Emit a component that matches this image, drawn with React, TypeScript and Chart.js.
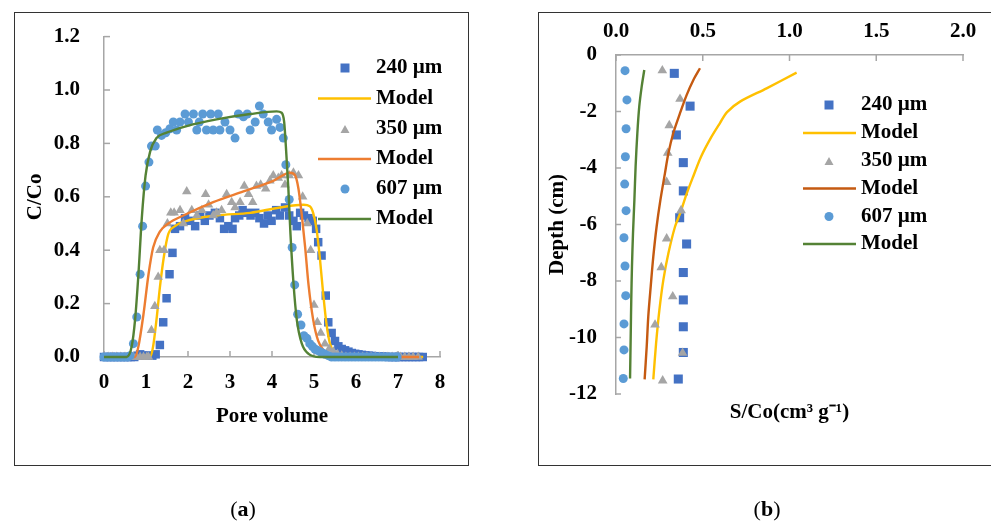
import React, { useEffect, useRef } from "react";
import { Chart, registerables } from "chart.js";

Chart.register(...registerables);

const FONT_FAMILY = '"Liberation Serif", "Times New Roman", Times, serif';
const AXIS_COLOR = "#a6a6a6";
const C240 = "#4472C4";
const C350 = "#A5A5A5";
const C607 = "#5B9BD5";
const YELLOW = "#FFC000";
const ORANGE_A = "#ED7D31";
const ORANGE_B = "#C55A11";
const GREEN = "#548235";

// ---------- Panel (a): breakthrough curves ----------
const xTicksA = [0, 1, 2, 3, 4, 5, 6, 7, 8];
const yTicksA = [0, 0.2, 0.4, 0.6, 0.8, 1.0, 1.2];

const obs240A: [number, number][] = [
  [0, 0], [0.08, 0], [0.16, 0], [0.24, 0], [0.32, 0], [0.4, 0], [0.48, 0], [0.56, 0], [0.64, 0], [0.72, 0],
  [0.8, 0.005], [0.86, 0.01], [0.95, 0.005], [1.05, 0.005], [1.15, 0.005], [1.23, 0.01], [1.33, 0.045],
  [1.41, 0.13], [1.49, 0.22], [1.56, 0.31], [1.63, 0.39], [1.69, 0.48], [1.81, 0.49], [1.93, 0.52],
  [2.05, 0.51], [2.17, 0.49], [2.29, 0.53], [2.4, 0.51], [2.51, 0.53], [2.64, 0.54], [2.76, 0.52],
  [2.86, 0.48], [2.96, 0.49], [3.06, 0.48], [3.12, 0.52], [3.22, 0.53], [3.3, 0.55], [3.4, 0.54],
  [3.49, 0.53], [3.6, 0.54], [3.7, 0.52], [3.81, 0.5], [3.9, 0.53], [3.99, 0.51], [4.1, 0.55],
  [4.19, 0.53], [4.31, 0.56], [4.41, 0.53], [4.51, 0.51], [4.59, 0.49], [4.67, 0.54], [4.76, 0.53],
  [4.87, 0.52], [4.97, 0.51], [5.05, 0.48], [5.1, 0.43], [5.18, 0.38], [5.28, 0.23], [5.34, 0.13],
  [5.42, 0.09], [5.5, 0.06], [5.58, 0.04], [5.66, 0.03], [5.74, 0.025], [5.82, 0.02], [5.9, 0.015],
  [5.98, 0.012], [6.06, 0.01], [6.14, 0.008], [6.22, 0.006], [6.3, 0.005], [6.38, 0.004], [6.46, 0.003],
  [6.54, 0.002], [6.62, 0.002], [6.7, 0.001], [6.78, 0], [6.86, 0], [6.94, 0], [7.02, 0], [7.1, 0],
  [7.18, 0], [7.26, 0], [7.34, 0], [7.42, 0], [7.5, 0], [7.59, 0],
];

const obs350A: [number, number][] = [
  [0, 0], [0.1, 0], [0.2, 0], [0.3, 0], [0.4, 0], [0.5, 0], [0.6, 0], [0.7, 0], [0.78, 0], [0.86, 0],
  [0.94, 0], [1.02, 0], [1.06, 0], [1.13, 0.1], [1.21, 0.19], [1.29, 0.3], [1.33, 0.4], [1.43, 0.4],
  [1.51, 0.5], [1.59, 0.54], [1.67, 0.54], [1.81, 0.55], [1.89, 0.5], [1.97, 0.62], [2.09, 0.55],
  [2.21, 0.53], [2.33, 0.55], [2.42, 0.61], [2.49, 0.57], [2.6, 0.53], [2.68, 0.54], [2.8, 0.55],
  [2.92, 0.61], [3.04, 0.58], [3.12, 0.56], [3.24, 0.58], [3.34, 0.64], [3.44, 0.61], [3.54, 0.58],
  [3.63, 0.64], [3.73, 0.645], [3.85, 0.63], [3.95, 0.66], [4.03, 0.68], [4.15, 0.67], [4.23, 0.68],
  [4.31, 0.645], [4.41, 0.68], [4.51, 0.69], [4.63, 0.68], [4.73, 0.6], [4.84, 0.5], [4.92, 0.4],
  [5.0, 0.195], [5.08, 0.13], [5.16, 0.09], [5.26, 0.05], [5.36, 0.03], [5.46, 0.02], [5.56, 0.01],
  [5.66, 0.005], [5.76, 0], [5.86, 0], [5.96, 0], [6.06, 0], [6.16, 0], [6.26, 0], [6.36, 0], [6.46, 0],
  [6.56, 0], [6.66, 0], [6.76, 0], [6.86, 0], [6.96, 0], [7.06, 0], [7.16, 0], [7.26, 0], [7.36, 0], [7.48, 0],
];

const obs607A: [number, number][] = [
  [0, 0], [0.08, 0], [0.16, 0], [0.24, 0], [0.32, 0], [0.4, 0], [0.48, 0], [0.56, 0], [0.62, 0.005],
  [0.7, 0.05], [0.78, 0.15], [0.86, 0.31], [0.92, 0.49], [0.99, 0.64], [1.07, 0.73], [1.13, 0.79],
  [1.22, 0.79], [1.27, 0.85], [1.37, 0.83], [1.47, 0.84], [1.57, 0.855], [1.65, 0.88], [1.73, 0.85],
  [1.81, 0.88], [1.93, 0.91], [2.01, 0.88], [2.13, 0.91], [2.21, 0.85], [2.27, 0.88], [2.35, 0.91],
  [2.44, 0.85], [2.54, 0.91], [2.6, 0.85], [2.72, 0.91], [2.76, 0.85], [2.88, 0.88], [3.0, 0.85],
  [3.12, 0.82], [3.2, 0.91], [3.32, 0.9], [3.41, 0.91], [3.48, 0.85], [3.6, 0.88], [3.7, 0.94],
  [3.79, 0.91], [3.91, 0.88], [3.99, 0.85], [4.11, 0.89], [4.19, 0.86], [4.27, 0.82], [4.33, 0.72],
  [4.41, 0.59], [4.48, 0.41], [4.54, 0.27], [4.61, 0.16], [4.69, 0.12], [4.76, 0.08], [4.83, 0.07],
  [4.9, 0.05], [4.96, 0.04], [5.02, 0.03], [5.08, 0.025], [5.14, 0.02], [5.2, 0.015], [5.26, 0.01],
  [5.34, 0.005], [5.42, 0], [5.5, 0], [5.58, 0], [5.66, 0], [5.74, 0], [5.82, 0], [5.9, 0], [5.98, 0],
  [6.06, 0], [6.14, 0], [6.22, 0], [6.3, 0], [6.38, 0], [6.46, 0], [6.54, 0], [6.62, 0], [6.7, 0],
  [6.78, 0], [6.86, 0], [6.94, 0], [6.98, 0],
];

const model240A: [number, number][] = [
  [0, 0], [1.1, 0], [1.17, 0.04], [1.25, 0.14], [1.33, 0.26], [1.43, 0.38], [1.53, 0.46], [1.69, 0.49],
  [1.97, 0.51], [2.68, 0.53], [3.48, 0.54], [4.19, 0.56], [4.75, 0.57], [4.9, 0.565], [4.98, 0.54],
  [5.06, 0.48], [5.14, 0.37], [5.22, 0.235], [5.3, 0.12], [5.38, 0.05], [5.5, 0.012], [5.7, 0], [7.6, 0],
];
const model350A: [number, number][] = [
  [0, 0], [0.74, 0], [0.82, 0.04], [0.94, 0.16], [1.06, 0.31], [1.17, 0.41], [1.33, 0.47], [1.53, 0.5],
  [1.89, 0.53], [2.6, 0.58], [3.32, 0.62], [4.03, 0.66], [4.43, 0.69], [4.55, 0.68], [4.63, 0.63],
  [4.71, 0.53], [4.79, 0.41], [4.87, 0.27], [4.98, 0.14], [5.1, 0.06], [5.26, 0.02], [5.42, 0], [7.5, 0],
];
const model607A: [number, number][] = [
  [0, 0], [0.54, 0], [0.66, 0.04], [0.74, 0.14], [0.82, 0.31], [0.9, 0.52], [0.99, 0.68], [1.1, 0.77],
  [1.25, 0.82], [1.49, 0.84], [1.97, 0.865], [2.68, 0.89], [3.48, 0.91], [4.11, 0.92], [4.23, 0.915],
  [4.29, 0.88], [4.33, 0.79], [4.39, 0.63], [4.44, 0.46], [4.51, 0.28], [4.59, 0.14], [4.71, 0.05],
  [4.87, 0.012], [5.14, 0], [7.0, 0],
];

// ---------- Panel (b): retention profiles ----------
const xTicksB = [0, 0.5, 1.0, 1.5, 2.0];
const yTicksB = [0, -2, -4, -6, -8, -10, -12];

const obs240B: [number, number][] = [
  [0.336, -0.65], [0.427, -1.81], [0.348, -2.83], [0.388, -3.81], [0.388, -4.81], [0.367, -5.76],
  [0.407, -6.69], [0.388, -7.7], [0.388, -8.67], [0.388, -9.62], [0.388, -10.53], [0.359, -11.47],
];
const obs350B: [number, number][] = [
  [0.267, -0.55], [0.369, -1.56], [0.307, -2.49], [0.298, -3.47], [0.292, -4.5], [0.375, -5.5],
  [0.292, -6.5], [0.261, -7.52], [0.327, -8.55], [0.225, -9.55], [0.384, -10.55], [0.269, -11.53],
];
const obs607B: [number, number][] = [
  [0.052, -0.555], [0.063, -1.59], [0.058, -2.61], [0.054, -3.6], [0.05, -4.57], [0.058, -5.51],
  [0.046, -6.47], [0.052, -7.47], [0.056, -8.52], [0.046, -9.52], [0.046, -10.44], [0.042, -11.45],
];
const model240B: [number, number][] = [
  [1.041, -0.625], [0.868, -1.18], [0.715, -1.65], [0.64, -2.02], [0.6, -2.4], [0.545, -2.95],
  [0.49, -3.6], [0.445, -4.3], [0.405, -4.95], [0.37, -5.6], [0.34, -6.08], [0.302, -7.02],
  [0.273, -7.96], [0.25, -9.03], [0.231, -10.21], [0.215, -11.48],
];
const model350B: [number, number][] = [
  [0.484, -0.47], [0.446, -0.885], [0.407, -1.42], [0.369, -2.06], [0.33, -2.77], [0.302, -3.48],
  [0.282, -4.19], [0.256, -5.13], [0.234, -6.08], [0.215, -7.14], [0.2, -8.2], [0.186, -9.26],
  [0.177, -10.32], [0.165, -11.48],
];
const model607B: [number, number][] = [
  [0.163, -0.53], [0.148, -1.12], [0.134, -1.83], [0.123, -2.77], [0.113, -3.95], [0.106, -5.13],
  [0.098, -6.31], [0.092, -7.49], [0.088, -8.67], [0.085, -9.85], [0.081, -11.45],
];

const legendLabels = ["240 µm", "Model", "350 µm", "Model", "607 µm", "Model"];

const toXY = (a: [number, number][]) => a.map(([x, y]) => ({ x, y }));
const font21 = { family: FONT_FAMILY, size: 21, weight: "bold" as const, lineHeight: 1.2 };

function obsDataset(label: string, data: [number, number][], style: string, color: string, r: number, order: number) {
  return {
    label,
    data: toXY(data),
    showLine: false,
    pointStyle: style,
    pointRadius: r,
    pointHoverRadius: r,
    pointBackgroundColor: color,
    pointBorderColor: color,
    pointBorderWidth: 0,
    backgroundColor: color,
    borderColor: color,
    clip: false as const,
    order,
  };
}
function modelDataset(label: string, data: [number, number][], color: string, order: number, smooth: any) {
  return {
    label,
    data: toXY(data),
    showLine: true,
    pointRadius: 0,
    pointHoverRadius: 0,
    borderColor: color,
    backgroundColor: color,
    borderWidth: 2.4,
    fill: false,
    clip: false as const,
    order,
    ...smooth,
  };
}

type Marker = "rect" | "triangle" | "circle";
function drawMarker(ctx: CanvasRenderingContext2D, kind: Marker, x: number, y: number, size: number, color: string) {
  ctx.fillStyle = color;
  ctx.beginPath();
  if (kind === "rect") ctx.rect(x - size / 2, y - size / 2, size, size);
  else if (kind === "triangle") {
    const h = size * 0.87;
    ctx.moveTo(x, y - h / 2);
    ctx.lineTo(x + size / 2, y + h / 2);
    ctx.lineTo(x - size / 2, y + h / 2);
    ctx.closePath();
  } else ctx.arc(x, y, size / 2, 0, Math.PI * 2);
  ctx.fill();
}

function legendPlugin(
  rows: { marker?: Marker; color: string }[],
  cfg: { markerX: number; lineX0: number; lineX1: number; textX: number; ys: number[]; size: number }
) {
  return {
    id: "customLegend",
    afterDraw(chart: any) {
      const ctx: CanvasRenderingContext2D = chart.ctx;
      ctx.save();
      rows.forEach((row, i) => {
        const y = cfg.ys[i];
        if (row.marker) drawMarker(ctx, row.marker, cfg.markerX, y, cfg.size, row.color);
        else {
          ctx.strokeStyle = row.color;
          ctx.lineWidth = 2.4;
          ctx.beginPath();
          ctx.moveTo(cfg.lineX0, y);
          ctx.lineTo(cfg.lineX1, y);
          ctx.stroke();
        }
        ctx.fillStyle = "#000";
        ctx.font = `bold 21px ${FONT_FAMILY}`;
        ctx.textAlign = "left";
        ctx.textBaseline = "middle";
        ctx.fillText(legendLabels[i], cfg.textX, y);
      });
      ctx.restore();
    },
  };
}

function innerTicksPlugin(specs: { axis: string; dir: "up" | "down" | "right"; len: number }[]) {
  return {
    id: "innerTicks",
    beforeDatasetsDraw(chart: any) {
      const ctx: CanvasRenderingContext2D = chart.ctx;
      const area = chart.chartArea;
      ctx.save();
      ctx.strokeStyle = AXIS_COLOR;
      ctx.lineWidth = 1.5;
      for (const s of specs) {
        const scale = chart.scales[s.axis];
        for (const t of scale.ticks) {
          const p = scale.getPixelForValue(t.value);
          ctx.beginPath();
          if (s.dir === "up") {
            ctx.moveTo(p, area.bottom);
            ctx.lineTo(p, area.bottom - s.len);
          } else if (s.dir === "down") {
            ctx.moveTo(p, area.top);
            ctx.lineTo(p, area.top + s.len);
          } else {
            ctx.moveTo(area.left, p);
            ctx.lineTo(area.left + s.len, p);
          }
          ctx.stroke();
        }
      }
      ctx.restore();
    },
  };
}

function leftConfig(): any {
  const mono = { cubicInterpolationMode: "monotone" };
  return {
    type: "scatter",
    data: {
      datasets: [
        obsDataset("240 µm", obs240A, "rect", C240, 6, 5),
        modelDataset("Model", model240A, YELLOW, 4, mono),
        obsDataset("350 µm", obs350A, "triangle", C350, 5.5, 3),
        modelDataset("Model", model350A, ORANGE_A, 2, mono),
        obsDataset("607 µm", obs607A, "circle", C607, 4.5, 1),
        modelDataset("Model", model607A, GREEN, 0, mono),
      ],
    },
    options: {
      animation: false,
      responsive: false,
      devicePixelRatio: 1,
      events: [],
      layout: { padding: { left: 0, top: 33.5, right: 60, bottom: 0 } },
      plugins: { legend: { display: false }, tooltip: { enabled: false } },
      scales: {
        x: {
          type: "linear",
          position: "bottom",
          min: 0,
          max: 8,
          afterBuildTicks: (s: any) => { s.ticks = xTicksA.map((v) => ({ value: v })); },
          ticks: { font: font21, color: "#000", padding: 13, maxRotation: 0, autoSkip: false, callback: (v: any) => String(v) },
          grid: { display: false, drawTicks: false },
          border: { display: true, color: AXIS_COLOR, width: 1.5 },
          title: { display: true, text: "Pore volume", font: font21, color: "#000", padding: { top: 0, bottom: 95 } },
          afterFit: (s: any) => { s.height = 167; },
        },
        y: {
          type: "linear",
          position: "left",
          min: 0,
          max: 1.2,
          afterBuildTicks: (s: any) => { s.ticks = yTicksA.map((v) => ({ value: v })); },
          ticks: { font: font21, color: "#000", padding: 24, autoSkip: false, callback: (v: any) => Number(v).toFixed(1) },
          grid: { display: false, drawTicks: false },
          border: { display: true, color: AXIS_COLOR, width: 1.5 },
          title: { display: true, text: "C/Co", font: font21, color: "#000", padding: { top: 23, bottom: 0 } },
          afterFit: (s: any) => { s.width = 104; },
        },
      },
    },
    plugins: [
      innerTicksPlugin([
        { axis: "x", dir: "up", len: 6 },
        { axis: "y", dir: "right", len: 6 },
      ]),
      legendPlugin(
        [
          { marker: "rect", color: C240 },
          { color: YELLOW },
          { marker: "triangle", color: C350 },
          { color: ORANGE_A },
          { marker: "circle", color: C607 },
          { color: GREEN },
        ],
        { markerX: 345, lineX0: 318, lineX1: 371, textX: 376, ys: [68, 98.5, 129, 159, 189, 219], size: 9 }
      ),
    ],
  };
}

function rightConfig(): any {
  const smooth = { tension: 0.3 };
  return {
    type: "scatter",
    data: {
      datasets: [
        obsDataset("240 µm", obs240B, "rect", C240, 6.4, 5),
        modelDataset("Model", model240B, YELLOW, 4, smooth),
        obsDataset("350 µm", obs350B, "triangle", C350, 5.6, 3),
        modelDataset("Model", model350B, ORANGE_B, 2, smooth),
        obsDataset("607 µm", obs607B, "circle", C607, 4.5, 1),
        modelDataset("Model", model607B, GREEN, 0, smooth),
      ],
    },
    options: {
      animation: false,
      responsive: false,
      devicePixelRatio: 1,
      events: [],
      layout: { padding: { left: 0, top: 0, right: 28, bottom: 0 } },
      plugins: { legend: { display: false }, tooltip: { enabled: false } },
      scales: {
        x: {
          type: "linear",
          position: "top",
          min: 0,
          max: 2,
          afterBuildTicks: (s: any) => { s.ticks = xTicksB.map((v) => ({ value: v })); },
          ticks: { font: font21, color: "#000", padding: 11, maxRotation: 0, autoSkip: false, callback: (v: any) => Number(v).toFixed(1) },
          grid: { display: false, drawTicks: false },
          border: { display: true, color: AXIS_COLOR, width: 1.5 },
          afterFit: (s: any) => { s.height = 55; },
        },
        x2: {
          type: "linear",
          position: "bottom",
          min: 0,
          max: 2,
          ticks: { display: false },
          grid: { display: false, drawTicks: false },
          border: { display: false },
          title: { display: true, text: "S/Co(cm³ g⁻¹)", font: font21, color: "#000", padding: { top: 0, bottom: 99 } },
          afterFit: (s: any) => { s.height = 130; },
        },
        y: {
          type: "linear",
          position: "left",
          min: -12,
          max: 0,
          afterBuildTicks: (s: any) => { s.ticks = yTicksB.map((v) => ({ value: v })); },
          ticks: { font: font21, color: "#000", padding: 19, autoSkip: false, callback: (v: any) => String(v) },
          grid: { display: false, drawTicks: false },
          border: { display: true, color: AXIS_COLOR, width: 1.5 },
          title: { display: true, text: "Depth (cm)", font: font21, color: "#000", padding: { top: 45, bottom: 0 } },
          afterFit: (s: any) => { s.width = 116; },
        },
      },
    },
    plugins: [
      innerTicksPlugin([
        { axis: "x", dir: "down", len: 6 },
        { axis: "y", dir: "right", len: 5 },
      ]),
      legendPlugin(
        [
          { marker: "rect", color: C240 },
          { color: YELLOW },
          { marker: "triangle", color: C350 },
          { color: ORANGE_B },
          { marker: "circle", color: C607 },
          { color: GREEN },
        ],
        { markerX: 329, lineX0: 303, lineX1: 356, textX: 361, ys: [105, 133, 161, 188.5, 216.5, 244], size: 9 }
      ),
    ],
  };
}

export default function App() {
  const leftRef = useRef<HTMLCanvasElement>(null);
  const rightRef = useRef<HTMLCanvasElement>(null);

  useEffect(() => {
    const c1 = new Chart(leftRef.current as HTMLCanvasElement, leftConfig());
    const c2 = new Chart(rightRef.current as HTMLCanvasElement, rightConfig());
    return () => {
      c1.destroy();
      c2.destroy();
    };
  }, []);

  const panelLabel: React.CSSProperties = {
    position: "absolute",
    top: 497,
    width: 100,
    textAlign: "center",
    fontSize: 22,
    lineHeight: "24px",
    fontFamily: FONT_FAMILY,
    color: "#000",
  };

  return (
    <div
      style={{
        position: "absolute",
        left: 0,
        top: 0,
        width: 991,
        height: 524,
        overflow: "hidden",
        background: "#fff",
      }}
    >
      <div
        style={{
          position: "absolute",
          left: 14,
          top: 12,
          width: 455,
          height: 454,
          border: "1.5px solid #333",
          boxSizing: "border-box",
        }}
      />
      <div
        style={{
          position: "absolute",
          left: 538,
          top: 12,
          width: 470,
          height: 454,
          border: "1.5px solid #333",
          boxSizing: "border-box",
        }}
      />
      <canvas ref={leftRef} width={500} height={524} style={{ position: "absolute", left: 0, top: 0 }} />
      <canvas ref={rightRef} width={491} height={524} style={{ position: "absolute", left: 500, top: 0 }} />
      <div style={{ ...panelLabel, left: 193 }}>
        (<b>a</b>)
      </div>
      <div style={{ ...panelLabel, left: 717 }}>
        (<b>b</b>)
      </div>
    </div>
  );
}
